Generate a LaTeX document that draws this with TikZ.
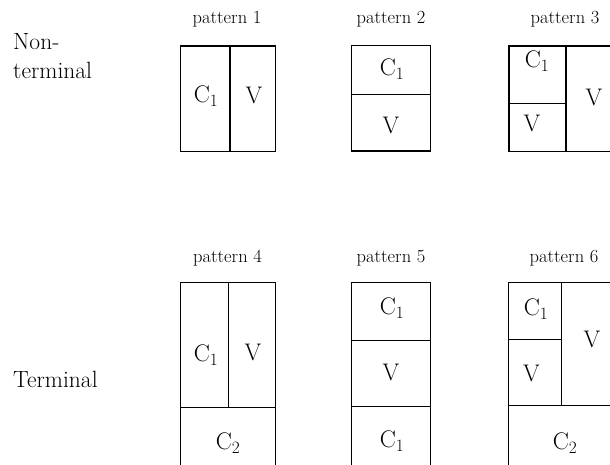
\documentclass[tikz,border=0pt]{standalone}
\begin{document}
\begin{tikzpicture}[x=1pt,y=-1pt,
  frame/.style={draw=black,line width=1.1pt},
  cell/.style={font=\fontsize{24}{28}\selectfont,inner sep=0pt},
  patlabel/.style={font=\fontsize{18.5}{22}\selectfont,anchor=base,inner sep=0pt},
  rowlabel/.style={font=\fontsize{23.5}{27}\selectfont,anchor=base west,inner sep=0pt}]
\useasboundingbox (0,0) rectangle (610,465);
\clip (0,0) rectangle (610,465);

% row labels
\node[rowlabel] (non)  at (13,50) {Non-};
\node[rowlabel] (term) at (13,79) {terminal};
\node[rowlabel] (Term) at (13,387.7) {Terminal};

% pattern captions
\node[patlabel] (p1) at (227,24) {pattern 1};
\node[patlabel] (p2) at (391,24) {pattern 2};
\node[patlabel] (p3) at (565,24) {pattern 3};
\node[patlabel] (p4) at (227.5,262) {pattern 4};
\node[patlabel] (p5) at (391,262) {pattern 5};
\node[patlabel] (p6) at (564,262) {pattern 6};

% pattern 1
\draw[frame] (180.7,46) rectangle (275.3,151.7);
\draw[frame] (230,46) -- (230,151.7);
\node[cell] (a1) at (206,96) {C$_1$};
\node[cell] (a2) at (254,95) {V};

% pattern 2
\draw[frame] (351.7,45.7) rectangle (430.7,151);
\draw[frame] (351.7,94.3) -- (430.7,94.3);
\node[cell] (b1) at (392,69) {C$_1$};
\node[cell] (b2) at (391,125) {V};

% pattern 3
\draw[frame] (509,46) rectangle (624,151.7);
\draw[frame] (566,46) -- (566,151.7);
\draw[frame] (509,103.3) -- (566,103.3);
\node[cell] (c1) at (537,61) {C$_1$};
\node[cell] (c2) at (532,123) {V};
\node[cell] (c3) at (594,97) {V};

% pattern 4
\draw[frame] (180.3,282.3) rectangle (275.3,476);
\draw[frame] (228.3,282.3) -- (228.3,407.7);
\draw[frame] (180.3,407.7) -- (275.3,407.7);
\node[cell] (d1) at (206,355) {C$_1$};
\node[cell] (d2) at (253,352) {V};
\node[cell] (d3) at (228,443) {C$_2$};

% pattern 5
\draw[frame] (351.7,282.3) rectangle (430.7,476);
\draw[frame] (351.7,340.3) -- (430.7,340.3);
\draw[frame] (351.7,406.7) -- (430.7,406.7);
\node[cell] (e1) at (392,308) {C$_1$};
\node[cell] (e2) at (391,372) {V};
\node[cell] (e3) at (392,441) {C$_1$};

% pattern 6
\draw[frame] (508.3,282.3) rectangle (624,476);
\draw[frame] (561.7,282.3) -- (561.7,405.7);
\draw[frame] (508.3,339.3) -- (561.7,339.3);
\draw[frame] (508.3,405.7) -- (624,405.7);
\node[cell] (f1) at (536,309) {C$_1$};
\node[cell] (f2) at (531.5,373) {V};
\node[cell] (f3) at (592,339) {V};
\node[cell] (f4) at (565,443) {C$_2$};
\end{tikzpicture}
\end{document}
